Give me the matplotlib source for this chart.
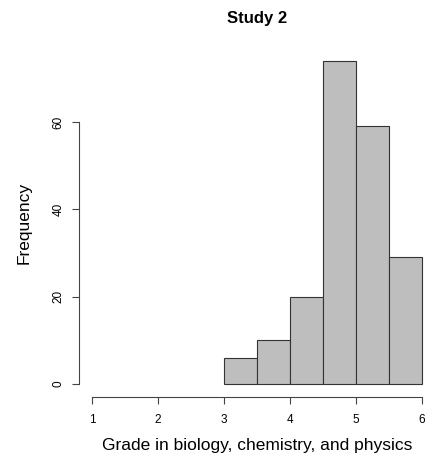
import matplotlib.pyplot as plt

plt.rcParams['font.family'] = ['Liberation Sans', 'DejaVu Sans']

# histogram bins and counts
bin_edges = [3.0, 3.5, 4.0, 4.5, 5.0, 5.5, 6.0]
counts = [6, 10, 20, 74, 59, 29]
x_ticks = [1, 2, 3, 4, 5, 6]
y_ticks = [0, 20, 40, 60]

fig = plt.figure(figsize=(4.4, 4.71), dpi=100)
ax = fig.add_axes([0.179, 0.157, 0.81, 0.741])

ax.hist(bin_edges[:-1], bins=bin_edges, weights=counts,
        color='#bebebe', edgecolor='#333333', linewidth=0.8)

ax.set_xlim(0.8, 6.2)
ax.set_ylim(-2.96, 76.96)

for side in ['top', 'right']:
    ax.spines[side].set_visible(False)
ax.spines['left'].set_bounds(0, 60)
ax.spines['bottom'].set_bounds(1, 6)
for side in ['left', 'bottom']:
    ax.spines[side].set_linewidth(0.8)
    ax.spines[side].set_color('#444444')

ax.set_xticks(x_ticks)
ax.set_yticks(y_ticks)
ax.set_yticklabels([str(v) for v in y_ticks], rotation=90, va='center')
ax.tick_params(direction='out', length=5, width=0.8, color='#444444',
               labelsize=8.5)
ax.tick_params(axis='x', pad=7)
ax.tick_params(axis='y', pad=5)

ax.set_title('Study 2', fontsize=12, fontweight='bold', pad=18)
ax.set_xlabel('Grade in biology, chemistry, and physics', fontsize=12.5, labelpad=9)
ax.set_ylabel('Frequency', fontsize=12.5, labelpad=15)

fig.savefig('out.png', dpi=100)
